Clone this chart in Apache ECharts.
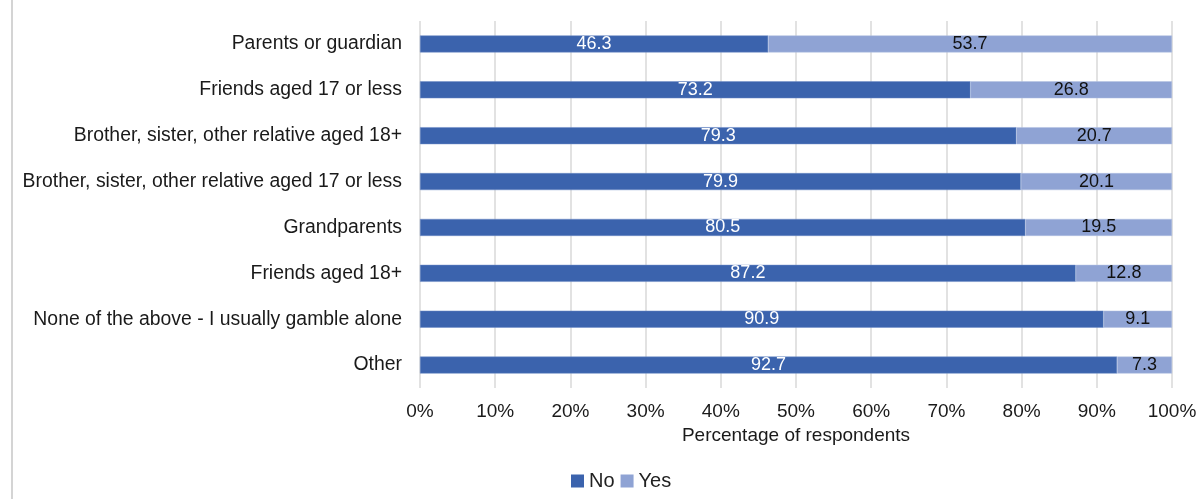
<!DOCTYPE html>
<html><head><meta charset="utf-8">
<script src="https://cdn.jsdelivr.net/npm/echarts@6/dist/echarts.min.js"></script>
<style>html,body{margin:0;padding:0;background:#fff}#c{width:1203px;height:499px}</style>
</head><body><div id="c"></div>
<script>
const categories = ["Parents or guardian","Friends aged 17 or less","Brother, sister, other relative aged 18+","Brother, sister, other relative aged 17 or less","Grandparents","Friends aged 18+","None of the above - I usually gamble alone","Other"];
const noValues = [46.3,73.2,79.3,79.9,80.5,87.2,90.9,92.7];
const yesValues = [53.7,26.8,20.7,20.1,19.5,12.8,9.1,7.3];
const xTicks = [0,10,20,30,40,50,60,70,80,90,100];
const font = 'Liberation Sans, Arial, sans-serif';
const chart = echarts.init(document.getElementById('c'));
chart.setOption({
  animation:false,
  textStyle:{fontFamily:font},
  graphic:[{type:'rect',shape:{x:11,y:0,width:2,height:499},style:{fill:'#d4d4d4'}}],
  grid:{left:420,right:31,top:21,bottom:111,containLabel:false},
  legend:{bottom:3,left:566,itemWidth:13,itemHeight:13,itemGap:6,icon:'rect',
    itemStyle:{borderWidth:0},
    textStyle:{fontSize:20,color:'#222',fontFamily:font},data:['No','Yes']},
  xAxis:{type:'value',min:0,max:100,interval:10,
    name:'Percentage of respondents',nameLocation:'middle',nameGap:38,
    nameTextStyle:{fontSize:19,color:'#1a1a1a',fontFamily:font},
    axisLine:{show:false},axisTick:{show:false},
    axisLabel:{fontSize:19,color:'#1a1a1a',margin:14,fontFamily:font,formatter:v=>xTicks.includes(v)?v+'%':''},
    splitLine:{show:true,lineStyle:{color:'#d9d9d9',width:1.5}}},
  yAxis:{type:'category',data:categories,inverse:true,
    axisLine:{show:false},axisTick:{show:false},
    axisLabel:{fontSize:19.4,color:'#1a1a1a',margin:18,fontFamily:font}},
  series:[
    {name:'No',type:'bar',stack:'t',data:noValues,barWidth:17,
      itemStyle:{color:'#3b63ad',borderColor:'#6f8cc6',borderWidth:0.5},
      label:{show:true,position:'inside',color:'#fff',fontSize:18,fontFamily:font,formatter:p=>p.value.toFixed(1)}},
    {name:'Yes',type:'bar',stack:'t',data:yesValues,barWidth:17,
      itemStyle:{color:'#8fa3d4',borderColor:'#b3c1e3',borderWidth:0.5},
      label:{show:true,position:'inside',color:'#111',fontSize:18,fontFamily:font,formatter:p=>p.value.toFixed(1)}}
  ]
});
</script></body></html>
